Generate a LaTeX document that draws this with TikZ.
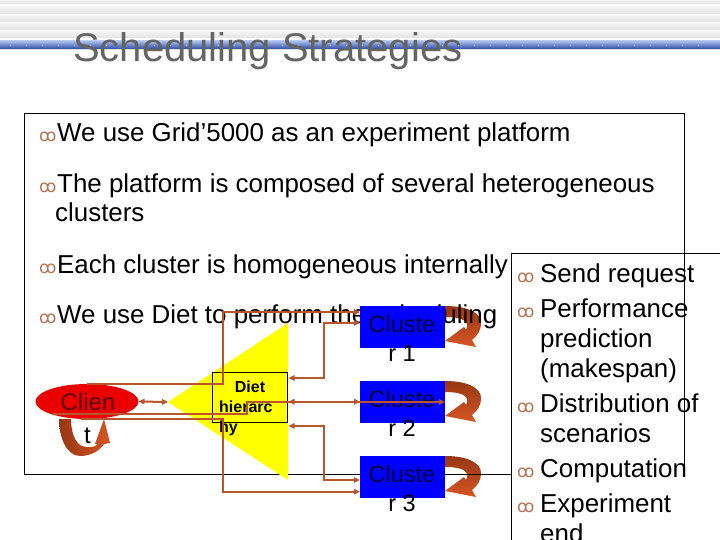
\documentclass[tikz,border=0pt]{standalone}
\usepackage{fontspec}
\setmainfont{Liberation Sans}
\newfontfamily\dejavu{DejaVu Sans}
\usetikzlibrary{arrows.meta,calc,shapes.geometric}
\definecolor{brownline}{RGB}{185,84,45}
\definecolor{bul}{RGB}{185,115,85}
\definecolor{loopdark}{RGB}{150,55,20}
\definecolor{looplight}{RGB}{215,85,35}
\definecolor{titlegray}{RGB}{100,100,100}
\definecolor{bartop}{RGB}{170,190,235}
\definecolor{barmid}{RGB}{85,125,205}
\definecolor{barbot}{RGB}{45,75,165}
\definecolor{clred}{RGB}{235,0,0}
\definecolor{clblue}{RGB}{0,0,255}
\definecolor{navytext}{RGB}{0,0,60}
\definecolor{maroontext}{RGB}{90,0,0}
\definecolor{dietyellow}{RGB}{255,255,0}
\tikzset{
  bodytext/.style={anchor=base west, inner sep=0pt, font=\fontsize{25.9}{30}\selectfont},
  bulletmark/.style={anchor=base west, inner sep=0pt, text=bul, font=\dejavu\fontsize{17}{20}\selectfont},
  connline/.style={draw=brownline, line width=2pt, -{Triangle[length=6pt,width=5.5pt]}},
  connboth/.style={connline, {Triangle[length=6pt,width=5.5pt]}-{Triangle[length=6pt,width=5.5pt]}},
  clusterbox/.style={fill=clblue, minimum width=85pt, minimum height=42pt, inner sep=0pt, outer sep=0pt},
  clustertext/.style={anchor=base, inner sep=0pt, font=\fontsize{23.5}{28}\selectfont},
  diettext/.style={inner sep=0pt, font=\bfseries\fontsize{16}{19}\selectfont},
  boxline/.style={line width=1pt, draw=black},
  cloop/.pic={
    \shade[top color=loopdark, bottom color=looplight]
      (0,0) .. controls (23,0) and (36,7) .. (36,17)
      .. controls (36,25) and (32,30) .. (27,34)
      -- (31,41) -- (0,35) -- (19,21) -- (21,24)
      .. controls (25,16) and (19,11) .. (0,11) -- cycle;
  }
}
\begin{document}
\begin{tikzpicture}[x=1pt,y=-1pt]
\useasboundingbox (0,0) rectangle (720,540);
\clip (0,0) rectangle (720,540);
\fill[white] (0,0) rectangle (720,540);
% header stripes
\foreach \a/\b in {0/4,7/14,16/22,24/30,32/38}
  \shade[top color=gray!10, bottom color=gray!22] (0,\a) rectangle (720,\b);
\shade[top color=bartop, middle color=barmid, bottom color=barbot] (0,41) rectangle (720,49);
\fill[gray!25] (0,49) rectangle (720,50.5);
\foreach \x in {10,26,...,710}
  \fill[white,opacity=0.5] (\x,45) rectangle ++(1,1.5);
% title
\node[anchor=base west, inner sep=0pt, text=titlegray, font=\fontsize{40}{48}\selectfont] (title) at (73,62) {Scheduling Strategies};

% loop arrows
\pic at (445,306) {cloop};
\pic at (445,381) {cloop};
\pic at (445,456) {cloop};
\shade[left color=loopdark, right color=looplight]
  (59,419) .. controls (59,438) and (67,456) .. (80,456)
  .. controls (92,456) and (100,450) .. (104,444)
  -- (110,443) -- (104,419) -- (95,444) -- (98,444)
  .. controls (94,448) and (88,448) .. (82,446)
  .. controls (75,443) and (71,432) .. (71,419) -- cycle;

% body text
\node[bulletmark] (b1) at (39,142) {ꝏ};
\node[bodytext] (t1) at (57,142) {We use Grid’5000 as an experiment platform};
\node[bulletmark] (b2) at (39,193) {ꝏ};
\node[bodytext] (t2) at (57,193) {The platform is composed of several heterogeneous};
\node[bodytext] (t2b) at (55,222) {clusters};
\node[bulletmark] (b3) at (39,273) {ꝏ};
\node[bodytext] (t3) at (57,273) {Each cluster is homogeneous internally};
\node[bulletmark] (b4) at (39,323) {ꝏ};
\node[bodytext] (t4) at (57,323) {We use Diet to perform the scheduling};

% right box text
\node[bulletmark] (rb1) at (517,282) {ꝏ};
\node[bodytext] (r1) at (540,282) {Send request};
\node[bulletmark] (rb2) at (517,317) {ꝏ};
\node[bodytext] (r2) at (540,317) {Performance};
\node[bodytext] (r2b) at (540,347) {prediction};
\node[bodytext] (r2c) at (540,377) {(makespan)};
\node[bulletmark] (rb3) at (517,412) {ꝏ};
\node[bodytext] (r3) at (540,412) {Distribution of};
\node[bodytext] (r3b) at (540,442) {scenarios};
\node[bulletmark] (rb4) at (517,477) {ꝏ};
\node[bodytext] (r4) at (540,477) {Computation};
\node[bulletmark] (rb5) at (517,512) {ꝏ};
\node[bodytext] (r5) at (540,512) {Experiment};
\node[bodytext] (r5b) at (540,542) {end};

% frames
\draw[boxline] (511,474) -- (24,474) -- (24,114) -- (684,114) -- (684,470);
\draw[boxline] (720,253) -- (511,253) -- (511,540);

% Diet hierarchy triangle
\coordinate (tA) at (168,402);
\coordinate (tB) at (288,323);
\coordinate (tC) at (288,480);
\fill[dietyellow] (tA) -- (tB) -- (tC) -- cycle;
\node[draw, line width=1pt, minimum width=75pt, minimum height=50pt, inner sep=0pt] (dh) at (250.2,397.3) {};
\node[diettext, anchor=base] (dt1) at (250,392.7) {Diet};
\node[diettext, anchor=base west] (dt2) at (219,412.7) {hierarc};
\node[diettext, anchor=base west] (dt3) at (219,432.7) {hy};

% client
\node[ellipse, fill=clred, minimum width=103pt, minimum height=35pt, inner sep=0pt, outer sep=0pt] (cl) at (87,401.5) {};
\node[anchor=base, inner sep=0pt, text=maroontext, font=\fontsize{24}{28}\selectfont] (clt1) at (88,410) {Clien};
\node[anchor=base, inner sep=0pt, font=\fontsize{24}{28}\selectfont] (clt2) at (87.5,443) {t};

% clusters
\node[clusterbox] (c1) at (402.5,327) {};
\node[clusterbox] (c2) at (402.5,402) {};
\node[clusterbox] (c3) at (402.5,477) {};
\node[clustertext, text=navytext] (c1a) at (402,332) {Cluste};
\node[clustertext] (c1b) at (402,361) {r 1};
\node[clustertext, text=navytext] (c2a) at (402,407) {Cluste};
\node[clustertext] (c2b) at (402,436) {r 2};
\node[clustertext, text=navytext] (c3a) at (402,482) {Cluste};
\node[clustertext] (c3b) at (402,511) {r 3};

% connectors
\coordinate (j1) at (223,0);
\coordinate (j2) at (246.7,0);
\coordinate (j3) at (324,0);
\coordinate (d1) at (288.5,378);
\coordinate (d2) at (288.5,401.7);
\coordinate (d3) at (288.5,426);
\draw[connboth] (cl.east) -- (tA);
\draw[connline] (cl.north) -- (cl.north -| j1) |- ($(c1.west)+(0,-15)$);
\draw[connline] (cl.200) -- (cl.200 -| j2) |- (c2.east);
\draw[connline] (cl.250) -- (cl.250 -| j1) |- ($(c3.west)+(0,14.7)$);
\draw[connboth] (d1) -- (d1 -| j3) |- ($(c1.west)+(0,-4)$);
\draw[connboth] (d2) -- (d2 -| c2.west);
\draw[connboth] (d3) -- (d3 -| j3) |- ($(c3.west)+(0,3)$);
\end{tikzpicture}
\end{document}
